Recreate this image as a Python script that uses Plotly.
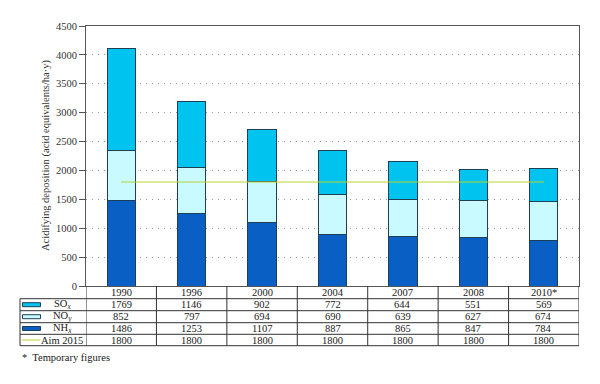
import plotly.graph_objects as go

years = ["1990", "1996", "2000", "2004", "2007", "2008", "2010*"]
sox = [1769, 1146, 902, 772, 644, 551, 569]
noy = [852, 797, 694, 690, 639, 627, 674]
nhx = [1486, 1253, 1107, 887, 865, 847, 784]
aim = [1800, 1800, 1800, 1800, 1800, 1800, 1800]

series_names = ["SO<sub><i>x</i></sub>", "NO<sub><i>y</i></sub>", "NH<sub><i>x</i></sub>", "Aim 2015"]
c_sox = "#00c3f0"
c_noy = "#c8faff"
c_nhx = "#0a5fc4"
c_aim = "#b8d430"
edge = "#1f3f55"
FONT = "'Liberation Serif', 'DejaVu Serif', serif"
TXT = "#1a1a1a"

fig = go.Figure()
fig.add_trace(go.Bar(x=years, y=nhx, name="NHx", marker=dict(color=c_nhx, line=dict(color=edge, width=1))))
fig.add_trace(go.Bar(x=years, y=noy, name="NOy", marker=dict(color=c_noy, line=dict(color=edge, width=1))))
fig.add_trace(go.Bar(x=years, y=sox, name="SOx", marker=dict(color=c_sox, line=dict(color=edge, width=1))))
fig.add_trace(go.Scatter(x=years, y=aim, mode="lines", name="Aim 2015", line=dict(color=c_aim, width=1)))

# Geometry in window pixels (plot area 86..579 x 26..286 px); page body has 8px margin
H = 260.0
W = 493.0
def py(Y):
    return (286.0 - Y) / H
def px(X):
    return (X - 86.0) / W

row_lines = [298.7, 310.7, 322.7, 334.3, 345.7]
row_centers = [292.8, 304.7, 316.7, 328.5, 340.0]

shapes = []
lc = "#333333"
for Y in row_lines:
    shapes.append(dict(type="line", xref="paper", yref="paper", x0=px(20), x1=1, y0=py(Y), y1=py(Y),
                       line=dict(color=lc, width=1)))
shapes.append(dict(type="line", xref="paper", yref="paper", x0=px(20), x1=px(20), y0=py(298.7), y1=py(345.7),
                   line=dict(color=lc, width=1)))
for k in range(len(years) + 1):
    shapes.append(dict(type="line", xref="x", yref="paper", x0=k - 0.5, x1=k - 0.5, y0=0, y1=py(345.7),
                       line=dict(color=lc, width=1)))
for Yc, col in zip(row_centers[1:4], [c_sox, c_noy, c_nhx]):
    shapes.append(dict(type="rect", xref="paper", yref="paper", x0=px(22.5), x1=px(40.5),
                       y0=py(Yc + 2), y1=py(Yc - 2), fillcolor=col, line=dict(color=edge, width=1)))
shapes.append(dict(type="line", xref="paper", yref="paper", x0=px(22), x1=px(40), y0=py(row_centers[4]),
                   y1=py(row_centers[4]), line=dict(color=c_aim, width=1)))

annotations = []
fs = 10.5
for i, yr in enumerate(years):
    annotations.append(dict(x=i, y=py(row_centers[0]), xref="x", yref="paper", text=yr, showarrow=False,
                            font=dict(family=FONT, size=fs, color=TXT), xanchor="center", yanchor="middle"))
    for r, arr in enumerate([sox, noy, nhx, aim]):
        annotations.append(dict(x=i, y=py(row_centers[r + 1]), xref="x", yref="paper", text=str(arr[i]),
                                showarrow=False, font=dict(family=FONT, size=fs, color=TXT),
                                xanchor="center", yanchor="middle"))
for r, nm in enumerate(series_names):
    if r < 3:
        annotations.append(dict(x=px(62), y=py(row_centers[r + 1]), xref="paper", yref="paper", text=nm,
                                showarrow=False, font=dict(family=FONT, size=fs, color=TXT),
                                xanchor="center", yanchor="middle"))
    else:
        annotations.append(dict(x=px(85), y=py(row_centers[r + 1]), xref="paper", yref="paper", text=nm,
                                showarrow=False, font=dict(family=FONT, size=fs, color=TXT),
                                xanchor="right", yanchor="middle"))
annotations.append(dict(x=px(20), y=py(357), xref="paper", yref="paper", text="*  Temporary figures",
                        showarrow=False, font=dict(family=FONT, size=fs, color=TXT),
                        xanchor="left", yanchor="middle"))
annotations.append(dict(x=px(46), y=0.5, xref="paper", yref="paper",
                        text="Acidifying deposition (acid equivalents/ha·y)", textangle=-90, showarrow=False,
                        font=dict(family=FONT, size=10.5, color="#333333"), xanchor="center", yanchor="middle"))

fig.update_layout(
    width=600, height=384,
    margin=dict(l=78, r=29, t=18, b=106, pad=0),
    paper_bgcolor="white", plot_bgcolor="white",
    barmode="stack", bargap=0.6,
    showlegend=False,
    font=dict(family=FONT, size=fs, color=TXT),
    shapes=shapes, annotations=annotations,
    xaxis=dict(type="category", categoryarray=years, categoryorder="array", range=[-0.5, len(years) - 0.5],
               showticklabels=False, showgrid=False, showline=True, linecolor="#555555", linewidth=1,
               mirror=True, ticks="", zeroline=False),
    yaxis=dict(range=[0, 4500], dtick=500, showline=True, linecolor="#555555", linewidth=1, mirror=True,
               ticks="outside", ticklen=6, tickcolor="#555555", showgrid=True, gridcolor="#9a9a9a",
               griddash="1px,5px", gridwidth=1, zeroline=False,
               tickfont=dict(family=FONT, size=fs, color="#333333")),
)

fig.write_html("out.html")
